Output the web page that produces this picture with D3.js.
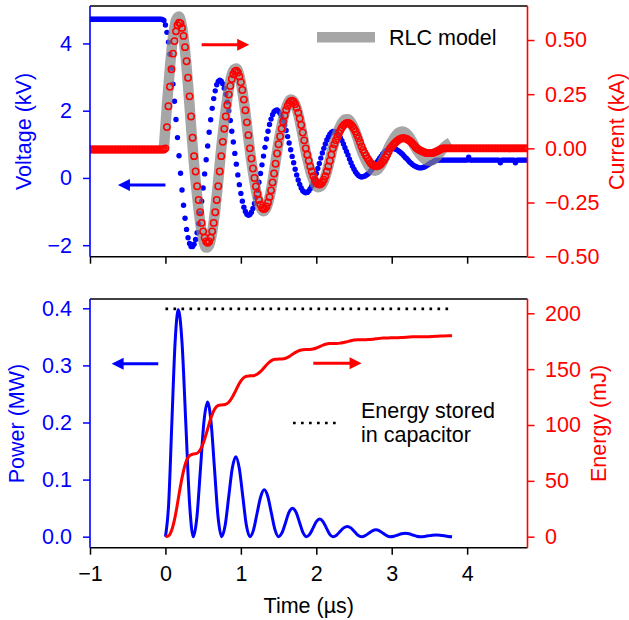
<!DOCTYPE html>
<html>
<head>
<meta charset="utf-8">
<script src="https://cdn.jsdelivr.net/npm/d3@7"></script>
<style>
  body { margin: 0; background: #fff; }
  svg { display: block; font-family: "Liberation Sans", Arial, sans-serif; }
</style>
</head>
<body>
<script>
// scope traces are sampled on one grid (µs)
const sampleStart = -1.0;
const sampleStep = 0.02;

// capacitor voltage, one row = 0.2 µs
const voltageKV = [
  4.72, 4.72, 4.72, 4.72, 4.72, 4.72, 4.72, 4.72, 4.72, 4.72,
  4.72, 4.72, 4.72, 4.72, 4.72, 4.72, 4.72, 4.72, 4.72, 4.72,
  4.72, 4.72, 4.72, 4.72, 4.72, 4.72, 4.72, 4.72, 4.72, 4.72,
  4.72, 4.72, 4.72, 4.72, 4.72, 4.72, 4.72, 4.72, 4.72, 4.72,
  4.72, 4.72, 4.72, 4.72, 4.72, 4.72, 4.72, 4.72, 4.71, 4.68,
  4.55, 4.33, 4.04, 3.68, 3.26, 2.79, 2.28, 1.74, 1.20, 0.66,
  0.14, -0.36, -0.81, -1.20, -1.53, -1.78, -1.95, -2.04, -2.04, -1.97,
  -1.83, -1.63, -1.36, -1.05, -0.69, -0.30, 0.12, 0.54, 0.95, 1.36,
  1.73, 2.07, 2.36, 2.59, 2.77, 2.87, 2.91, 2.88, 2.80, 2.67,
  2.49, 2.26, 2.00, 1.71, 1.39, 1.07, 0.73, 0.41, 0.09, -0.20,
  -0.46, -0.69, -0.87, -1.00, -1.08, -1.11, -1.09, -1.02, -0.91, -0.76,
  -0.58, -0.37, -0.13, 0.13, 0.39, 0.65, 0.91, 1.16, 1.39, 1.59,
  1.75, 1.88, 1.97, 2.01, 2.02, 1.98, 1.92, 1.83, 1.71, 1.57,
  1.41, 1.23, 1.04, 0.84, 0.64, 0.45, 0.26, 0.09, -0.06, -0.19,
  -0.30, -0.38, -0.42, -0.44, -0.43, -0.39, -0.32, -0.24, -0.13, -0.01,
  0.13, 0.28, 0.43, 0.59, 0.74, 0.88, 1.01, 1.13, 1.22, 1.30,
  1.35, 1.38, 1.38, 1.36, 1.32, 1.26, 1.19, 1.11, 1.01, 0.90,
  0.79, 0.68, 0.56, 0.45, 0.35, 0.26, 0.18, 0.12, 0.07, 0.04,
  0.03, 0.04, 0.05, 0.08, 0.11, 0.15, 0.21, 0.26, 0.32, 0.39,
  0.46, 0.52, 0.59, 0.65, 0.71, 0.76, 0.80, 0.83, 0.86, 0.88,
  0.88, 0.88, 0.86, 0.85, 0.82, 0.79, 0.75, 0.71, 0.66, 0.61,
  0.57, 0.52, 0.47, 0.43, 0.39, 0.36, 0.34, 0.32, 0.30, 0.30,
  0.30, 0.32, 0.33, 0.36, 0.39, 0.42, 0.45, 0.47, 0.50, 0.52,
  0.53, 0.53, 0.53, 0.53, 0.53, 0.53, 0.53, 0.53, 0.53, 0.53,
  0.53, 0.53, 0.53, 0.53, 0.53, 0.53, 0.53, 0.53, 0.53, 0.53,
  0.53, 0.62, 0.53, 0.53, 0.53, 0.53, 0.53, 0.53, 0.53, 0.53,
  0.53, 0.53, 0.53, 0.53, 0.53, 0.53, 0.53, 0.53, 0.53, 0.53,
  0.53, 0.53, 0.45, 0.53, 0.53, 0.53, 0.53, 0.53, 0.53, 0.53,
  0.53, 0.53, 0.45, 0.53, 0.53, 0.53, 0.53, 0.53, 0.53, 0.53,
  0.53
];

// discharge current, same grid
const currentKA = [
  -0.005, -0.005, -0.005, -0.005, -0.005, -0.005, -0.005, -0.005, -0.005, -0.005,
  -0.005, -0.005, -0.005, -0.005, -0.005, -0.005, -0.005, -0.005, -0.005, -0.005,
  -0.005, -0.005, -0.005, -0.005, -0.005, -0.005, -0.005, -0.005, -0.005, -0.005,
  -0.005, -0.005, -0.005, -0.005, -0.005, -0.005, -0.005, -0.005, -0.005, -0.005,
  -0.005, -0.005, -0.005, -0.005, -0.005, -0.005, -0.005, -0.005, -0.005, -0.005,
  0, 0.098, 0.194, 0.284, 0.365, 0.437, 0.495, 0.54, 0.568, 0.58,
  0.576, 0.556, 0.519, 0.467, 0.402, 0.326, 0.24, 0.147, 0.049, -0.036,
  -0.107, -0.175, -0.238, -0.295, -0.344, -0.383, -0.412, -0.43, -0.436, -0.43,
  -0.412, -0.383, -0.344, -0.295, -0.238, -0.175, -0.107, -0.036, 0.03, 0.09,
  0.147, 0.2, 0.248, 0.288, 0.32, 0.342, 0.355, 0.358, 0.35, 0.332,
  0.305, 0.269, 0.225, 0.176, 0.12, 0.061, 0, -0.047, -0.093, -0.137,
  -0.176, -0.21, -0.238, -0.26, -0.274, -0.28, -0.278, -0.268, -0.25, -0.225,
  -0.194, -0.157, -0.116, -0.071, -0.024, 0.019, 0.055, 0.091, 0.123, 0.152,
  0.177, 0.196, 0.21, 0.218, 0.22, 0.215, 0.204, 0.187, 0.165, 0.138,
  0.108, 0.073, 0.037, 0, -0.029, -0.057, -0.084, -0.107, -0.128, -0.145,
  -0.157, -0.164, -0.167, -0.164, -0.157, -0.145, -0.128, -0.107, -0.084, -0.057,
  -0.029, 0, 0.019, 0.037, 0.054, 0.07, 0.084, 0.096, 0.106, 0.112,
  0.116, 0.117, 0.115, 0.109, 0.101, 0.091, 0.078, 0.062, 0.046, 0.028,
  0.009, -0.007, -0.021, -0.034, -0.046, -0.057, -0.067, -0.074, -0.079, -0.082,
  -0.083, -0.081, -0.077, -0.071, -0.062, -0.052, -0.041, -0.028, -0.014, 0,
  0.008, 0.017, 0.024, 0.031, 0.037, 0.041, 0.045, 0.047, 0.047, 0.046,
  0.043, 0.039, 0.034, 0.028, 0.02, 0.013, 0.004, -0.002, -0.006, -0.01,
  -0.013, -0.016, -0.019, -0.021, -0.022, -0.022, -0.022, -0.021, -0.019, -0.016,
  -0.013, -0.01, -0.006, -0.002, 0, 0, 0, 0, 0, 0,
  0, 0, 0, 0, 0, 0, 0, 0, 0, 0,
  0, 0, 0, 0, 0, 0, 0, 0, 0, 0,
  0, 0, 0, 0, 0, 0, 0, 0, 0, 0,
  0, 0, 0, 0, 0, 0, 0, 0, 0, 0,
  0, 0, 0, 0, 0, 0, 0, 0, 0, 0,
  0
];

// RLC model current
const modelStart = -0.02;
const modelStep = 0.04;
const modelKA = [
  0,
  0.198, 0.375, 0.511, 0.591, 0.608, 0.559, 0.449, 0.29, 0.1,
  -0.076, -0.219, -0.338, -0.421, -0.458, -0.446, -0.385, -0.283, -0.149,
  0, 0.122, 0.23, 0.312, 0.36, 0.368, 0.335, 0.264, 0.165, 0.046,
  -0.061, -0.152, -0.226, -0.273, -0.29, -0.273, -0.226, -0.152, -0.061,
  0.029, 0.103, 0.164, 0.206, 0.225, 0.216, 0.183, 0.128, 0.058,
  -0.015, -0.075, -0.126, -0.162, -0.179, -0.175, -0.151, -0.108, -0.054,
  0.006, 0.05, 0.088, 0.117, 0.133, 0.134, 0.12, 0.092, 0.055, 0.011,
  -0.026, -0.058, -0.084, -0.099, -0.103, -0.095, -0.075, -0.047, -0.013,
  0.017, 0.041, 0.061, 0.074, 0.078, 0.073, 0.059, 0.038, 0.013,
  -0.01, -0.029, -0.044, -0.054, -0.057, -0.054, -0.044, -0.029, -0.01,
  0.006, 0.018, 0.027
];

// power and dissipated energy
const pulseTime = [
  0, 0.043, 0.085, 0.128, 0.17, 0.22, 0.27, 0.32,
  0.37, 0.417, 0.464, 0.511, 0.558, 0.604, 0.651, 0.698,
  0.745, 0.792, 0.839, 0.886, 0.933, 0.979, 1.026, 1.073,
  1.12, 1.168, 1.215, 1.263, 1.31, 1.358, 1.405, 1.453,
  1.5, 1.546, 1.593, 1.639, 1.685, 1.731, 1.778, 1.824,
  1.87, 1.914, 1.958, 2.001, 2.045, 2.089, 2.133, 2.176,
  2.22, 2.268, 2.315, 2.363, 2.41, 2.458, 2.505, 2.553,
  2.6, 2.648, 2.695, 2.743, 2.79, 2.838, 2.885, 2.933,
  2.98, 3.03, 3.08, 3.13, 3.18, 3.23, 3.28, 3.33,
  3.38, 3.433, 3.485, 3.538, 3.59, 3.643, 3.695, 3.748,
  3.8
];
const powerMW = [
  0, 0.058, 0.199, 0.34, 0.398, 0.34, 0.199, 0.058,
  0, 0.034, 0.118, 0.202, 0.236, 0.202, 0.118, 0.034,
  0, 0.02, 0.07, 0.12, 0.14, 0.12, 0.07, 0.02,
  0, 0.012, 0.041, 0.07, 0.082, 0.07, 0.041, 0.012,
  0, 0.007, 0.025, 0.043, 0.05, 0.043, 0.025, 0.007,
  0, 0.0045, 0.0155, 0.0265, 0.031, 0.0265, 0.0155, 0.0045,
  0, 0.0026, 0.009, 0.0154, 0.018, 0.0154, 0.009, 0.0026,
  0, 0.0018, 0.006, 0.0102, 0.012, 0.0102, 0.006, 0.0018,
  0, 0.0009, 0.003, 0.0051, 0.006, 0.0051, 0.003, 0.0009,
  0, 0.0004, 0.0015, 0.0026, 0.003, 0.0026, 0.0015, 0.0004,
  0
];
const energyMJ = [
  0, 0.85, 6.2, 17.7, 33.8, 52.7, 66.4, 72.6,
  74, 74.55, 78, 85.55, 96, 106.45, 114, 117.45,
  118, 118.33, 120.37, 124.83, 131, 137.18, 141.63, 143.68,
  144, 144.19, 145.37, 147.94, 151.5, 155.06, 157.64, 158.81,
  159, 159.11, 159.77, 161.23, 163.25, 165.27, 166.73, 167.39,
  167.5, 167.57, 168, 168.94, 170.25, 171.56, 172.5, 172.93,
  173, 173.04, 173.3, 173.87, 174.65, 175.43, 176, 176.26,
  176.3, 176.32, 176.45, 176.75, 177.15, 177.55, 177.85, 177.98,
  178, 178.01, 178.09, 178.26, 178.5, 178.74, 178.91, 178.99,
  179, 179.01, 179.07, 179.21, 179.4, 179.59, 179.73, 179.79,
  179.8
];
const capacitorEnergyMJ = 204;
const capacitorSpan = [0, 3.75];

const timeTicks = [-1, 0, 1, 2, 3, 4];
const voltageTicks = [-2, 0, 2, 4];
const currentTicks = [-0.5, -0.25, 0, 0.25, 0.5];
const powerTicks = [0, 0.1, 0.2, 0.3, 0.4];
const energyTicks = [0, 50, 100, 150, 200];

//Canvas
const width = 629;
const height = 620;
const plotLeft = 90;
const plotRight = 527.5;
const top1 = 6, bottom1 = 256.7;
const top2 = 299, bottom2 = 547.7;
const BLUE = "#0000ff";
const RED = "#ff0000";
const FONT = 21.5;

const svg = d3.select("body").append("svg").attr("width", width).attr("height", height);

const x = d3.scaleLinear().domain([-1, 4.8]).range([plotLeft, plotRight]);
const yV = d3.scaleLinear().domain([-2.342, 5.113]).range([bottom1, top1]);
const yI = d3.scaleLinear().domain([-0.5, 0.657]).range([bottom1, top1]);
const yP = d3.scaleLinear().domain([-0.0193, 0.4163]).range([bottom2, top2]);
const yE = d3.scaleLinear().domain([-9.85, 212.8]).range([bottom2, top2]);

const tScope = (i) => sampleStart + i * sampleStep;
const tModel = (i) => modelStart + i * modelStep;

//Clip areas
const defs = svg.append("defs");
[["clip1", top1, bottom1], ["clip2", top2, bottom2]].forEach(([id, t, b]) => {
  defs.append("clipPath").attr("id", id)
    .append("rect").attr("x", plotLeft).attr("y", t)
    .attr("width", plotRight - plotLeft).attr("height", b - t);
});

//Top panel marks
const g1 = svg.append("g").attr("clip-path", "url(#clip1)");

g1.selectAll(".vdot")
  .data(voltageKV)
  .join("circle")
  .attr("class", "vdot")
  .attr("cx", (d, i) => x(tScope(i)))
  .attr("cy", (d) => yV(d))
  .attr("r", 2.7)
  .attr("fill", BLUE);

g1.append("path")
  .datum(modelKA)
  .attr("fill", "none")
  .attr("stroke", "#808080")
  .attr("stroke-opacity", 0.7)
  .attr("stroke-width", 10.5)
  .attr("stroke-linejoin", "round")
  .attr("d", d3.line().x((d, i) => x(tModel(i))).y((d) => yI(d)).curve(d3.curveMonotoneX));

g1.selectAll(".idot")
  .data(currentKA)
  .join("circle")
  .attr("class", "idot")
  .attr("cx", (d, i) => x(tScope(i)))
  .attr("cy", (d) => yI(d))
  .attr("r", 3.2)
  .attr("fill", "none")
  .attr("stroke", RED)
  .attr("stroke-width", 1.5);

//Bottom panel marks
const g2 = svg.append("g").attr("clip-path", "url(#clip2)");

g2.append("line")
  .attr("x1", x(capacitorSpan[0])).attr("x2", x(capacitorSpan[1]))
  .attr("y1", yE(capacitorEnergyMJ)).attr("y2", yE(capacitorEnergyMJ))
  .attr("stroke", "#000").attr("stroke-width", 2.7)
  .attr("stroke-dasharray", "2.7,5.3");

g2.append("path")
  .datum(powerMW)
  .attr("fill", "none").attr("stroke", BLUE).attr("stroke-width", 3)
  .attr("d", d3.line().x((d, i) => x(pulseTime[i])).y((d) => yP(d)).curve(d3.curveMonotoneX));

g2.append("path")
  .datum(energyMJ)
  .attr("fill", "none").attr("stroke", RED).attr("stroke-width", 3)
  .attr("d", d3.line().x((d, i) => x(pulseTime[i])).y((d) => yE(d)).curve(d3.curveMonotoneX));

//Axes
const styleAxis = (g, color) => {
  g.select(".domain").remove();
  g.attr("font-size", null).attr("font-family", null);
  g.selectAll("line").attr("stroke", color).attr("stroke-width", 1.5);
  g.selectAll("text").attr("fill", color).style("font-size", FONT + "px");
};

svg.append("g")
  .attr("transform", `translate(0,${bottom1})`)
  .call(d3.axisBottom(x).tickValues(timeTicks).tickSize(7).tickFormat(""))
  .call((g) => styleAxis(g, "#000"));
svg.append("g")
  .attr("transform", `translate(${plotLeft},0)`)
  .call(d3.axisLeft(yV).tickValues(voltageTicks).tickSize(7).tickPadding(11).tickFormat(d3.format("d")))
  .call((g) => styleAxis(g, BLUE));
svg.append("g")
  .attr("transform", `translate(${plotRight},0)`)
  .call(d3.axisRight(yI).tickValues(currentTicks).tickSize(7).tickPadding(10.5).tickFormat(d3.format(".2f")))
  .call((g) => styleAxis(g, RED));

svg.append("g")
  .attr("transform", `translate(0,${bottom2})`)
  .call(d3.axisBottom(x).tickValues(timeTicks).tickSize(7).tickPadding(11).tickFormat(d3.format("d")))
  .call((g) => styleAxis(g, "#000"));
svg.append("g")
  .attr("transform", `translate(${plotLeft},0)`)
  .call(d3.axisLeft(yP).tickValues(powerTicks).tickSize(7).tickPadding(11).tickFormat(d3.format(".1f")))
  .call((g) => styleAxis(g, BLUE));
svg.append("g")
  .attr("transform", `translate(${plotRight},0)`)
  .call(d3.axisRight(yE).tickValues(energyTicks).tickSize(7).tickPadding(10.5).tickFormat(d3.format("d")))
  .call((g) => styleAxis(g, RED));

//Spines
[[top1, bottom1], [top2, bottom2]].forEach(([t, b]) => {
  const sp = svg.append("g").attr("stroke-width", 1.6);
  sp.append("line").attr("x1", plotLeft).attr("x2", plotRight).attr("y1", t).attr("y2", t).attr("stroke", "#000");
  sp.append("line").attr("x1", plotLeft).attr("x2", plotRight).attr("y1", b).attr("y2", b).attr("stroke", "#000");
  sp.append("line").attr("x1", plotLeft).attr("x2", plotLeft).attr("y1", t).attr("y2", b).attr("stroke", BLUE);
  sp.append("line").attr("x1", plotRight).attr("x2", plotRight).attr("y1", t).attr("y2", b).attr("stroke", RED);
});

//Arrows
const arrow = (x0, x1, y, color) => {
  const dir = Math.sign(x1 - x0);
  svg.append("line")
    .attr("x1", x0).attr("x2", x1 - dir * 8).attr("y1", y).attr("y2", y)
    .attr("stroke", color).attr("stroke-width", 3);
  svg.append("path")
    .attr("d", `M${x1},${y}L${x1 - dir * 12},${y - 6}L${x1 - dir * 12},${y + 6}Z`)
    .attr("fill", color);
};
arrow(x(0.48), x(1.11), yI(0.478), RED);
arrow(x(0.0), x(-0.63), yV(-0.21), BLUE);
arrow(x(-0.095), x(-0.713), yP(0.303), BLUE);
arrow(x(1.96), x(2.6), yE(155.2), RED);

//Legends
svg.append("line")
  .attr("x1", 317).attr("x2", 375).attr("y1", 37.2).attr("y2", 37.2)
  .attr("stroke", "#808080").attr("stroke-opacity", 0.7).attr("stroke-width", 10.5);
svg.append("text").attr("x", 389).attr("y", 45).style("font-size", FONT + "px").text("RLC model");

svg.append("line")
  .attr("x1", 293).attr("x2", 337).attr("y1", 423).attr("y2", 423)
  .attr("stroke", "#000").attr("stroke-width", 2.7).attr("stroke-dasharray", "2.7,5.3");
svg.append("text").attr("x", 361).attr("y", 417.5).style("font-size", FONT + "px").text("Energy stored");
svg.append("text").attr("x", 361).attr("y", 441.5).style("font-size", FONT + "px").text("in capacitor");

//Axis titles
const title = (tx, ty, rot, color, label) => {
  svg.append("text")
    .attr("transform", `translate(${tx},${ty}) rotate(${rot})`)
    .attr("text-anchor", "middle")
    .attr("fill", color)
    .style("font-size", FONT + "px")
    .text(label);
};
title(30.5, 131.5, -90, BLUE, "Voltage (kV)");
title(623.5, 131.5, -90, RED, "Current (kA)");
title(24, 423.5, -90, BLUE, "Power (MW)");
title(605.5, 423.5, -90, RED, "Energy (mJ)");
title(308.75, 613, 0, "#000", "Time (µs)");
</script>
</body>
</html>
